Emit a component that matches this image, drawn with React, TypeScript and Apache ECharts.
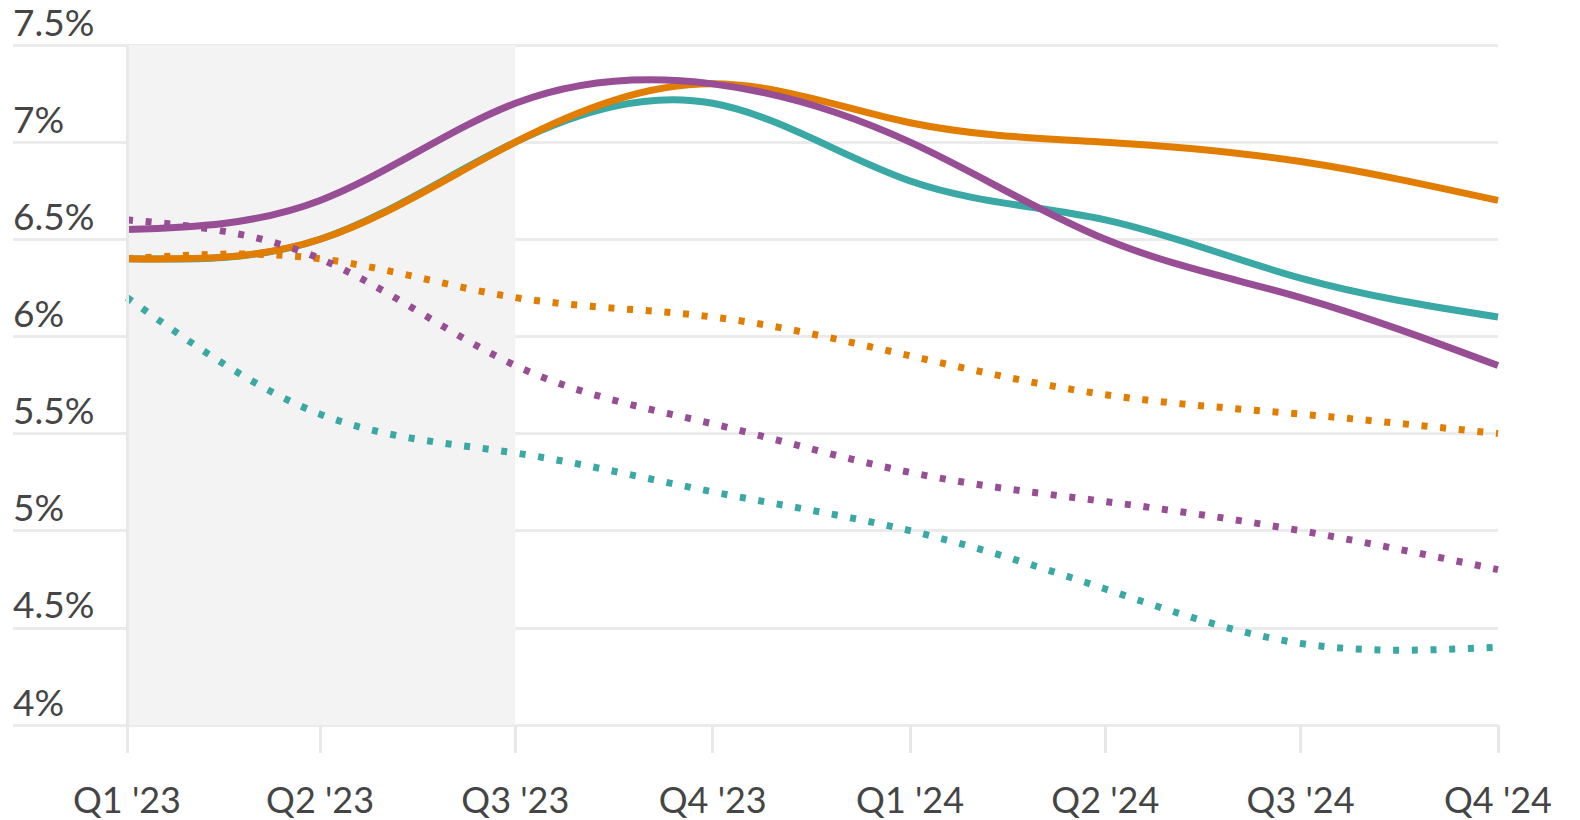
import React, { useEffect, useRef } from "react";
import * as echarts from "echarts";

const quarters = ["Q1 '23", "Q2 '23", "Q3 '23", "Q4 '23", "Q1 '24", "Q2 '24", "Q3 '24", "Q4 '24"];
const quarterDates = [
  "2023-01-01",
  "2023-04-01",
  "2023-07-01",
  "2023-10-01",
  "2024-01-01",
  "2024-04-01",
  "2024-07-01",
  "2024-10-01",
];
const yTickValues = [4, 4.5, 5, 5.5, 6, 6.5, 7, 7.5];

const tealSolid = [6.4, 6.5, 7.0, 7.2, 6.8, 6.6, 6.3, 6.1];
const orangeSolid = [6.4, 6.5, 7.0, 7.3, 7.1, 7.0, 6.9, 6.7];
const purpleSolid = [6.55, 6.7, 7.2, 7.3, 7.0, 6.5, 6.2, 5.85];
const tealDotted = [6.2, 5.6, 5.4, 5.2, 5.0, 4.7, 4.42, 4.4];
const orangeDotted = [6.4, 6.4, 6.2, 6.1, 5.9, 5.7, 5.6, 5.5];
const purpleDotted = [6.6, 6.4, 5.85, 5.55, 5.3, 5.15, 5.0, 4.8];

const shadeStartIndex = 0; // Q1 '23
const shadeEndIndex = 2; // Q3 '23

const TEAL = "#3aa8a4";
const ORANGE = "#e17d00";
const PURPLE = "#984e95";

// natural cubic spline control points (same scheme as d3.curveNatural)
function controlPoints(x: number[]): [number[], number[]] {
  const n = x.length - 1;
  const a = new Array(n);
  const b = new Array(n);
  const r = new Array(n);
  a[0] = 0;
  b[0] = 2;
  r[0] = x[0] + 2 * x[1];
  for (let i = 1; i < n - 1; ++i) {
    a[i] = 1;
    b[i] = 4;
    r[i] = 4 * x[i] + 2 * x[i + 1];
  }
  a[n - 1] = 2;
  b[n - 1] = 7;
  r[n - 1] = 8 * x[n - 1] + x[n];
  for (let i = 1; i < n; ++i) {
    const m = a[i] / b[i - 1];
    b[i] -= m;
    r[i] -= m * r[i - 1];
  }
  a[n - 1] = r[n - 1] / b[n - 1];
  for (let i = n - 2; i >= 0; --i) a[i] = (r[i] - a[i + 1]) / b[i];
  b[n - 1] = (x[n] + a[n - 1]) / 2;
  for (let i = 0; i < n - 1; ++i) b[i] = 2 * x[i + 1] - a[i + 1];
  return [a, b];
}

function naturalPath(pts: number[][]): string {
  const xs = pts.map((p) => p[0]);
  const ys = pts.map((p) => p[1]);
  const [ax, bx] = controlPoints(xs);
  const [ay, by] = controlPoints(ys);
  let d = `M${xs[0]},${ys[0]}`;
  for (let i = 0; i < xs.length - 1; i++) {
    d += `C${ax[i]},${ay[i]},${bx[i]},${by[i]},${xs[i + 1]},${ys[i + 1]}`;
  }
  return d;
}

export default function App() {
  const ref = useRef<HTMLDivElement>(null);
  useEffect(() => {
    document.body.style.margin = "0";
    const chart = echarts.init(ref.current!, null, { renderer: "svg" });
    const t0 = Date.parse(quarterDates[0]);
    // x position in days since the first quarter
    const days = quarterDates.map((d) => Math.round((Date.parse(d) - t0) / 86400000));
    const toPts = (arr: number[]) => arr.map((v, i) => [days[i], v]);
    const lineSeries = (name: string, arr: number[], color: string, dotted: boolean) => ({
      name,
      type: "custom",
      data: toPts(arr),
      encode: { x: 0, y: 1 },
      silent: true,
      z: dotted ? 4 : 3,
      renderItem: (params: any, api: any) => {
        if (params.dataIndex !== 0) return null;
        const pts = arr.map((v, i) => api.coord([days[i], v]));
        return {
          type: "path",
          shape: { pathData: naturalPath(pts) },
          style: {
            fill: "none",
            stroke: color,
            lineWidth: 7,
            lineDash: dotted ? [6, 12.7] : null,
            lineCap: "butt",
            lineJoin: "round",
          },
        };
      },
    });
    // layout: plot spans x 13..1498, first quarter at x=127
    const plotLeft = 13;
    const firstX = 127;
    const lastX = 1498;
    const dLast = days[days.length - 1];
    const daysPerPx = dLast / (lastX - firstX);
    const xMin = -(firstX - plotLeft) * daysPerPx;
    chart.setOption({
      animation: false,
      textStyle: { fontFamily: "Lato" },
      grid: { left: plotLeft, right: 1580 - lastX, top: 45, bottom: 95, containLabel: false },
      xAxis: {
        type: "value",
        min: xMin,
        max: dLast,
        axisLine: { show: false },
        splitLine: { show: false },
        axisTick: {
          show: true,
          customValues: days,
          length: 28,
          lineStyle: { color: "#e8e8e8", width: 3 },
        },
        axisLabel: {
          customValues: days,
          formatter: (v: number) => {
            const i = days.indexOf(Math.round(v));
            return i >= 0 ? quarters[i] : "";
          },
          fontSize: 36,
          color: "#454545",
          fontFamily: "Lato",
          margin: 56,
        },
      },
      yAxis: {
        type: "value",
        min: 4,
        max: 7.5,
        interval: 0.5,
        axisLine: { show: false },
        axisTick: { show: false },
        splitLine: { lineStyle: { color: "#ebebeb", width: 3 } },
        axisLabel: {
          inside: true,
          margin: 0,
          align: "left",
          verticalAlign: "bottom",
          lineHeight: 38,
          padding: [0, 0, 5, 0],
          fontSize: 37,
          color: "#454545",
          fontFamily: "Lato",
          formatter: (v: number) => (yTickValues.includes(v) ? `${v}%` : ""),
        },
      },
      series: [
        {
          type: "line",
          data: [],
          z: -1,
          silent: true,
          markArea: {
            silent: true,
            itemStyle: { color: "#f3f3f3" },
            data: [[{ xAxis: days[shadeStartIndex] }, { xAxis: days[shadeEndIndex] }]],
          },
        },
        {
          type: "line",
          data: [],
          z: 1,
          silent: true,
          markLine: {
            silent: true,
            symbol: "none",
            label: { show: false },
            lineStyle: { color: "#e8e8e8", width: 3, type: "solid" },
            data: [[{ coord: [days[0], 4] }, { coord: [days[0], 7.5] }]],
          },
        },
        lineSeries("tealSolid", tealSolid, TEAL, false),
        lineSeries("orangeSolid", orangeSolid, ORANGE, false),
        lineSeries("purpleSolid", purpleSolid, PURPLE, false),
        lineSeries("tealDotted", tealDotted, TEAL, true),
        lineSeries("orangeDotted", orangeDotted, ORANGE, true),
        lineSeries("purpleDotted", purpleDotted, PURPLE, true),
      ],
    });
    return () => chart.dispose();
  }, []);
  return (
    <div
      ref={ref}
      style={{ position: "fixed", left: 0, top: 0, width: 1580, height: 820, background: "#fff" }}
    />
  );
}
